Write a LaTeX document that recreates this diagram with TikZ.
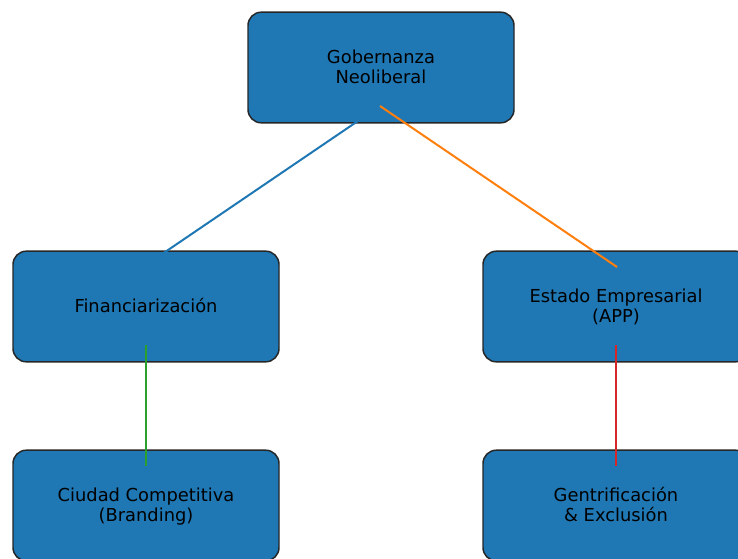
\documentclass[tikz,border=0pt]{standalone}
\usepackage{fontspec}
\setmainfont{DejaVu Sans}
\definecolor{mblue}{HTML}{1F77B4}
\definecolor{morange}{HTML}{FF7F0E}
\definecolor{mgreen}{HTML}{2CA02C}
\definecolor{mred}{HTML}{D62728}
\newcommand{\mystrut}{\rule[-3pt]{0pt}{15pt}}
\tikzset{
  box/.style={draw=black!85, line width=1.1pt, fill=mblue, rounded corners=10pt,
    minimum width=199.5pt, minimum height=83pt, inner sep=0pt, align=center,
    font=\fontsize{13.4}{15}\selectfont, text=black},
  link/.style={line width=1.5pt}
}
\begin{document}
\begin{tikzpicture}[x=0.75pt,y=-0.75pt]
\useasboundingbox (0,0) rectangle (738,558);
\clip (0,0) rectangle (738,558);
\node[box] (gob) at (381,67.5) {\mystrut Gobernanza\\\mystrut Neoliberal};
\node[box] (fin) at (146,306.5) {\mystrut Financiarización};
\node[box] (est) at (616,306.5) {\mystrut Estado Empresarial\\\mystrut (APP)};
\node[box] (ciu) at (146,505.5) {\mystrut Ciudad Competitiva\\\mystrut (Branding)};
\node[box] (gen) at (616,505.5) {\mystrut Gentrificación\\\mystrut \& Exclusión};
\coordinate (gobA) at (380,106);
\coordinate (finA) at (146,265);
\coordinate (estA) at (617,267);
\coordinate (finB) at (146,345);
\coordinate (ciuA) at (146,466);
\coordinate (estB) at (616,345);
\coordinate (genA) at (616,466);
\draw[link, mblue] (gobA) -- (finA);
\draw[link, morange] (gobA) -- (estA);
\draw[link, mgreen] (finB) -- (ciuA);
\draw[link, mred] (estB) -- (genA);
\end{tikzpicture}
\end{document}
